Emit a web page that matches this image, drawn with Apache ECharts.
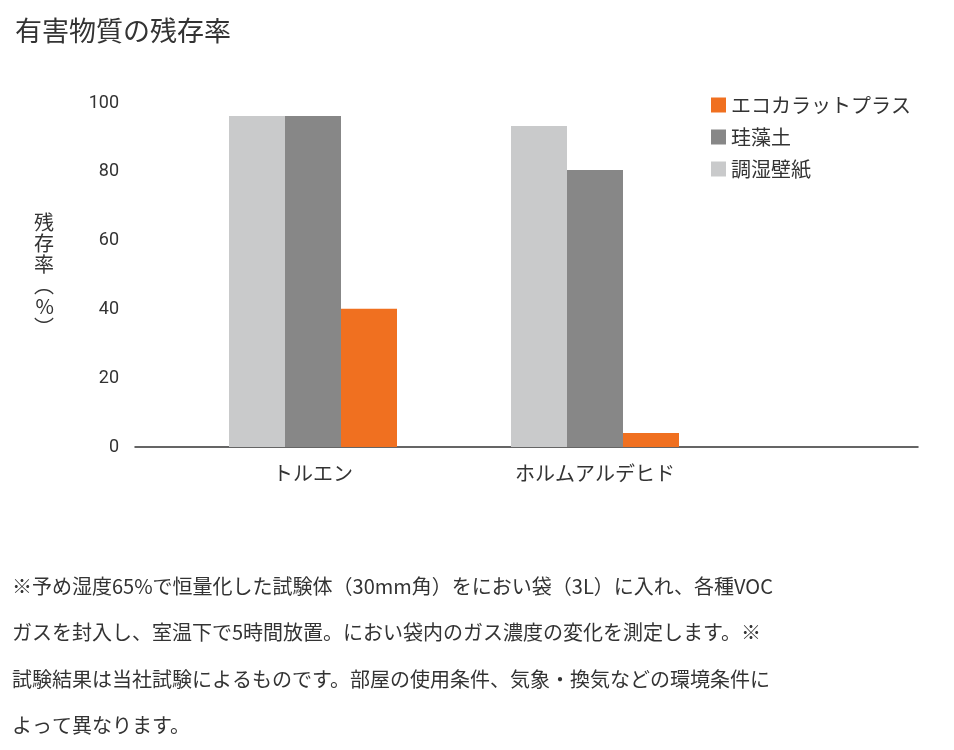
<!DOCTYPE html>
<html><head><meta charset="utf-8">
<script src="https://cdn.jsdelivr.net/npm/echarts@6/dist/echarts.min.js"></script>
<style>html,body{margin:0;padding:0;background:#fff}#c{width:954px;height:750px}</style>
</head><body><div id="c"></div>
<script>
const categories = ['トルエン', 'ホルムアルデヒド'];
const wallpaper = [96.2, 93.3];   // 調湿壁紙
const diatom = [96.2, 80.5];      // 珪藻土
const ecocarat = [40.2, 4.1];     // エコカラットプラス
const seriesNames = ['調湿壁紙', '珪藻土', 'エコカラットプラス'];
const legendOrder = ['エコカラットプラス', '珪藻土', '調湿壁紙'];
const colors = ['#C9CACB', '#878787', '#F07020'];
const footnote = '※予め湿度65%で恒量化した試験体（30mm角）をにおい袋（3L）に入れ、各種VOC\nガスを封入し、室温下で5時間放置。におい袋内のガス濃度の変化を測定します。※\n試験結果は当社試験によるものです。部屋の使用条件、気象・換気などの環境条件に\nよって異なります。';
const font = '"Noto Sans CJK JP", "Noto Sans", sans-serif';
const chart = echarts.init(document.getElementById('c'));
const data = [wallpaper, diatom, ecocarat];
chart.setOption({
  textStyle: {fontFamily: font},
  animation: false,
  title: {text: '有害物質の残存率', left: 10, top: 12, textStyle: {fontSize: 27, fontWeight: 'normal', color: '#333', fontFamily: font}},
  legend: {data: legendOrder, orient: 'vertical', left: 706, top: 90, itemGap: 12, itemWidth: 15, itemHeight: 15, icon: 'rect',
    textStyle: {fontSize: 20, color: '#333', fontFamily: font}},
  grid: [
    {left: 172, right: 218, top: 103, bottom: 303},
    {left: 135, right: 36, top: 103, bottom: 303}
  ],
  xAxis: [
    {type: 'category', data: categories, gridIndex: 0, axisLine: {show: false}, axisTick: {show: false},
     axisLabel: {fontSize: 20, color: '#333', margin: 16, fontFamily: font}},
    {type: 'value', gridIndex: 1, min: 0, max: 1, axisLine: {show: true, lineStyle: {color: '#333', width: 1.5}},
     axisTick: {show: false}, axisLabel: {show: false}, splitLine: {show: false}}
  ],
  yAxis: [
    {type: 'value', gridIndex: 0, min: 0, max: 100, interval: 20, axisLine: {show: false}, axisTick: {show: false}, splitLine: {show: false},
     axisLabel: {fontSize: 18, color: '#333', margin: 53, fontFamily: 'Roboto, sans-serif'},
     name: '残\n存\n率\n︵\n%\n︶', nameLocation: 'middle', nameRotate: 0, nameGap: 118,
     nameTextStyle: {fontSize: 20, color: '#333', lineHeight: 21, fontFamily: font}},
    {type: 'value', gridIndex: 1, show: false, min: 0, max: 1}
  ],
  series: seriesNames.map((n, i) => ({
    name: n, type: 'bar', data: data[i], barWidth: 56, barGap: '0%', itemStyle: {color: colors[i]}
  })),
  graphic: [{type: 'text', left: 12, top: 563, style: {text: footnote, fontSize: 20, lineHeight: 46.5, fill: '#333', fontFamily: font}}]
});
</script></body></html>
